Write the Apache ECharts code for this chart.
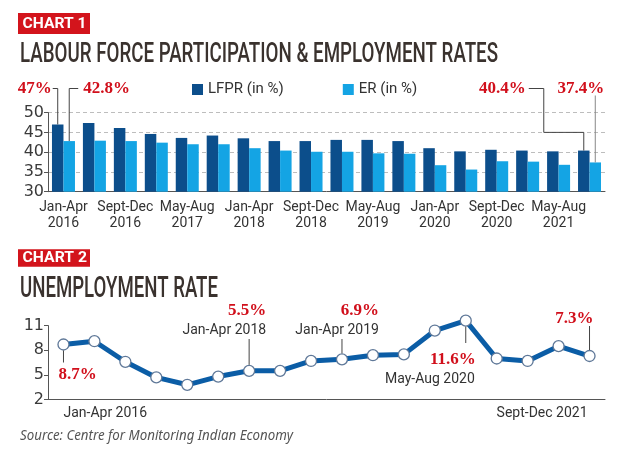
<!DOCTYPE html>
<html><head><meta charset="utf-8">
<script src="https://cdn.jsdelivr.net/npm/echarts@6/dist/echarts.min.js"></script>
<style>html,body{margin:0;padding:0;background:#fff}#c{width:626px;height:453px}</style>
</head><body><div id="c"></div>
<script>
const periods = ['Jan-Apr 2016','May-Aug 2016','Sept-Dec 2016','Jan-Apr 2017','May-Aug 2017','Sept-Dec 2017','Jan-Apr 2018','May-Aug 2018','Sept-Dec 2018','Jan-Apr 2019','May-Aug 2019','Sept-Dec 2019','Jan-Apr 2020','May-Aug 2020','Sept-Dec 2020','Jan-Apr 2021','May-Aug 2021','Sept-Dec 2021'];
const lfpr = [47.0,47.4,46.1,44.6,43.6,44.2,43.5,42.8,42.8,43.1,43.1,42.8,41.0,40.2,40.6,40.4,40.2,40.4];
const er = [42.8,42.9,42.8,42.4,42.0,42.0,41.0,40.4,40.1,40.1,39.7,39.6,36.7,35.6,37.7,37.6,36.8,37.4];
const unemployment = [8.7,9.1,6.6,4.7,3.8,4.8,5.5,5.5,6.7,6.9,7.4,7.5,10.4,11.6,7.0,6.7,8.5,7.3];
const chart1Range = {min: 30, max: 50, interval: 5};
const chart2Range = {min: 2, max: 11, interval: 3};
const titles = ['LABOUR FORCE PARTICIPATION & EMPLOYMENT RATES', 'UNEMPLOYMENT RATE'];
const seriesNames = ['LFPR (in %)', 'ER (in %)'];
const source = 'Source: Centre for Monitoring Indian Economy';

const DARK = '#0c4e8b', LIGHT = '#14a4e4', RED = '#d10f1b', BOXRED = '#d3141c', TXT = '#3a322e', AX = '#555';
const BW = 11.5;
const chart = echarts.init(document.getElementById('c'), null, {renderer: 'canvas'});

chart.setOption({
  animation: false,
  backgroundColor: '#fff',
  grid: [
    {left: 48, right: 21, top: 112.6, height: 79.1},
    {left: 48, right: 21, top: 325.6, height: 74}
  ],
  legend: {
    data: seriesNames, left: 187, top: 77, itemWidth: 11, itemHeight: 11, itemGap: 59,
    icon: 'rect', textStyle: {fontFamily: 'Roboto', fontSize: 15, color: '#333'}
  },
  xAxis: [
    {gridIndex: 0, type: 'category', data: periods,
     axisLine: {lineStyle: {color: AX, width: 1}},
     axisTick: {alignWithLabel: true, interval: 0, length: 4, lineStyle: {color: AX}},
     axisLabel: {interval: 1, fontFamily: 'Roboto', fontSize: 14, color: '#333', lineHeight: 16, margin: 8,
       formatter: v => v.replace(' ', '\n')}},
    {gridIndex: 1, type: 'category', data: periods,
     axisLine: {lineStyle: {color: AX, width: 1}},
     axisTick: {alignWithLabel: true, interval: 0, length: 4, lineStyle: {color: AX}},
     axisLabel: {show: false}}
  ],
  yAxis: [
    {gridIndex: 0, type: 'value', min: chart1Range.min, max: chart1Range.max, interval: chart1Range.interval,
     axisLine: {show: true, lineStyle: {color: AX}},
     axisTick: {show: true, length: 4, lineStyle: {color: AX}},
     axisLabel: {fontFamily: 'DejaVu Sans', fontSize: 16, color: '#3a3a3a', margin: 4},
     splitLine: {show: true, lineStyle: {color: '#bdbdbd', type: [4, 3], width: 1}}},
    {gridIndex: 1, type: 'value', min: chart2Range.min, max: chart2Range.max, interval: chart2Range.interval,
     axisLine: {show: true, lineStyle: {color: AX}},
     axisTick: {show: true, length: 4, lineStyle: {color: AX}},
     axisLabel: {fontFamily: 'DejaVu Sans', fontSize: 16, color: '#3a3a3a', margin: 4},
     splitLine: {show: false}}
  ],
  series: [
    {name: seriesNames[0], type: 'bar', xAxisIndex: 0, yAxisIndex: 0, data: lfpr, barWidth: BW, barGap: '0%',
     itemStyle: {color: DARK}},
    {name: seriesNames[1], type: 'bar', xAxisIndex: 0, yAxisIndex: 0, data: er, barWidth: BW, barGap: '0%',
     itemStyle: {color: LIGHT}},
    {name: 'UR', type: 'line', xAxisIndex: 1, yAxisIndex: 1, data: unemployment, clip: false,
     symbol: 'circle', symbolSize: 11, showAllSymbol: true,
     lineStyle: {color: '#0b5da6', width: 5},
     itemStyle: {color: '#fff', borderColor: '#5f7898', borderWidth: 1.3}}
  ]
});

const mctx = document.createElement('canvas').getContext('2d');
function fit(text, font, w) { mctx.font = font; return w / mctx.measureText(text).width; }
function txt(text, x, y, font, fill, align, scale) {
  return {type: 'text', x: x, y: y, scaleX: scale || 1, z: 100,
    style: {text: text, font: font, fill: fill, align: align || 'left', verticalAlign: 'middle',
      textAlign: align || 'left', textVerticalAlign: 'middle'}};
}
function line(points, color) {
  return {type: 'polyline', z: 99, shape: {points: points}, style: {stroke: color || '#444', lineWidth: 1, fill: null}};
}
const p1 = (i, v) => chart.convertToPixel({gridIndex: 0}, [i, v]);
const p2 = (i, v) => chart.convertToPixel({gridIndex: 1}, [i, v]);

const T1F = '500 27px Roboto', T2F = '500 29px Roboto', BXF = 'bold 15px Roboto';
const SRF = 'italic 14px "Noto Sans"';
const ANF = 'bold 17px "Liberation Serif"';
const LBF = '14px Roboto';
const g = [];
// headers
g.push({type: 'rect', shape: {x: 18, y: 13, width: 72, height: 21}, style: {fill: BOXRED}});
g.push(txt('CHART 1', 22.5, 24, BXF, '#fff', 'left', fit('CHART 1', BXF, 64)));
g.push(txt(titles[0], 20, 55.5, T1F, TXT, 'left', fit(titles[0], T1F, 478)));
g.push({type: 'rect', shape: {x: 18, y: 249.3, width: 72, height: 17.5}, style: {fill: BOXRED}});
g.push(txt('CHART 2', 22.5, 258.3, BXF, '#fff', 'left', fit('CHART 2', BXF, 64.5)));
g.push(txt(titles[1], 20, 289.5, T2F, TXT, 'left', fit(titles[1], T2F, 198)));
g.push(txt(source, 20, 436.5, SRF, '#555', 'left', fit(source, SRF, 273)));

// chart 1 annotations
const yAnn = 88.5;
const a0 = p1(0, lfpr[0]), dx0 = a0[0] - BW / 2;
g.push(line([[dx0 - 5, yAnn], [dx0, yAnn], [dx0, a0[1]]]));
g.push(txt(lfpr[0] + '%', dx0 - 6, yAnn, ANF, RED, 'right'));
const b0 = p1(0, er[0]), lx0 = b0[0] + BW / 2;
g.push(line([[lx0 + 9, yAnn], [lx0, yAnn], [lx0, b0[1]]]));
g.push(txt(er[0].toFixed(1) + '%', lx0 + 14, yAnn, ANF, RED, 'left'));
const n = periods.length - 1;
const a17 = p1(n, lfpr[n]), dx17 = a17[0] - BW / 2, y45 = p1(n, 45)[1];
g.push(line([[dx17 - 55, yAnn], [dx17 - 40, yAnn], [dx17 - 40, y45], [dx17, y45], [dx17, a17[1]]]));
g.push(txt(lfpr[n].toFixed(1) + '%', dx17 - 58, yAnn, ANF, RED, 'right'));
const b17 = p1(n, er[n]), lx17 = b17[0] + BW / 2;
g.push(line([[lx17, yAnn + 7], [lx17, b17[1]]], '#888'));
g.push(txt(er[n].toFixed(1) + '%', lx17 + 9, yAnn, ANF, RED, 'right'));

// chart 2 annotations
const u0 = p2(0, unemployment[0]);
g.push(line([[u0[0], u0[1] + 6], [u0[0], u0[1] + 18]]));
g.push(txt(unemployment[0].toFixed(1) + '%', u0[0] - 5, 375, ANF, RED, 'left'));
const u6 = p2(6, unemployment[6]);
g.push(line([[u6[0], 339], [u6[0], u6[1] - 6]]));
g.push(txt(periods[6], u6[0] + 17, 330.5, LBF, '#333', 'right'));
g.push(txt(unemployment[6].toFixed(1) + '%', u6[0] + 17, 310.5, ANF, RED, 'right'));
const u9 = p2(9, unemployment[9]);
g.push(line([[u9[0], 339], [u9[0], u9[1] - 6]]));
g.push(txt(periods[9], u9[0] + 37, 330.5, LBF, '#333', 'right'));
g.push(txt(unemployment[9].toFixed(1) + '%', u9[0] + 37, 310.5, ANF, RED, 'right'));
const u13 = p2(13, unemployment[13]);
g.push(line([[u13[0], u13[1] + 6], [u13[0], 343]]));
g.push(txt(unemployment[13].toFixed(1) + '%', u13[0] + 10, 359.5, ANF, RED, 'right'));
g.push(txt(periods[13], u13[0] + 9, 379, LBF, '#333', 'right'));
const u17 = p2(n, unemployment[n]);
g.push(line([[u17[0], 326], [u17[0], u17[1] - 6]]));
g.push(txt(unemployment[n].toFixed(1) + '%', u17[0] + 4, 318.5, ANF, RED, 'right'));
// chart 2 end labels
const axY = p2(0, chart2Range.min)[1];
g.push(txt(periods[0], u0[0], axY + 13.5, LBF, '#333', 'left'));
g.push(txt(periods[n], u17[0] - 2, axY + 13.5, LBF, '#333', 'right'));

chart.setOption({graphic: {elements: g}});
</script>
</body></html>
